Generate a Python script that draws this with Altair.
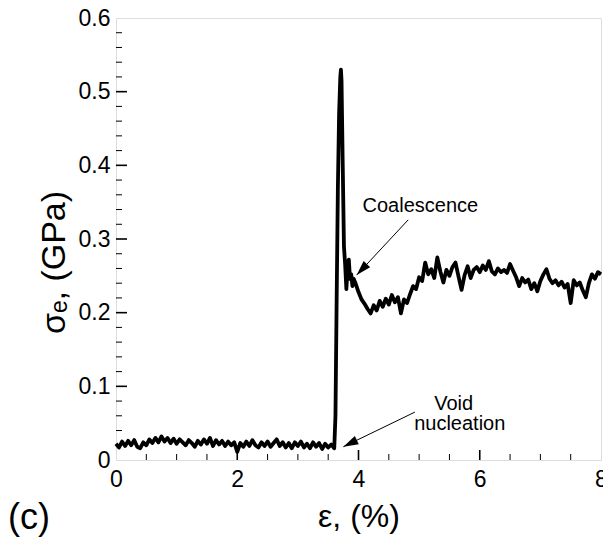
import altair as alt
import pandas as pd

# ---------------- data ----------------
strain_flat = [0.00, 0.05, 0.10, 0.15, 0.20, 0.25, 0.30, 0.35, 0.40, 0.45,
               0.50, 0.55, 0.60, 0.65, 0.70, 0.75, 0.80, 0.85, 0.90, 0.95,
               1.00, 1.05, 1.10, 1.15, 1.20, 1.25, 1.30, 1.35, 1.40, 1.45,
               1.50, 1.55, 1.60, 1.65, 1.70, 1.75, 1.80, 1.85, 1.90, 1.95,
               2.00, 2.05, 2.10, 2.15, 2.20, 2.25, 2.30, 2.35, 2.40, 2.45,
               2.50, 2.55, 2.60, 2.65, 2.70, 2.75, 2.80, 2.85, 2.90, 2.95,
               3.00, 3.05, 3.10, 3.15, 3.20, 3.25, 3.30, 3.35, 3.40, 3.45,
               3.50, 3.55, 3.60]
stress_flat = [0.022, 0.017, 0.025, 0.019, 0.026, 0.020, 0.027, 0.018, 0.016, 0.024,
               0.020, 0.028, 0.023, 0.030, 0.024, 0.032, 0.025, 0.030, 0.023, 0.029,
               0.022, 0.028, 0.024, 0.020, 0.027, 0.023, 0.018, 0.026, 0.021, 0.028,
               0.022, 0.030, 0.019, 0.027, 0.021, 0.026, 0.019, 0.025, 0.020, 0.024,
               0.011, 0.023, 0.018, 0.025, 0.019, 0.027, 0.020, 0.017, 0.024, 0.019,
               0.025, 0.018, 0.023, 0.028, 0.019, 0.024, 0.017, 0.023, 0.016, 0.024,
               0.019, 0.025, 0.017, 0.022, 0.016, 0.024, 0.018, 0.023, 0.015, 0.022,
               0.017, 0.021, 0.016]

strain_spike = [3.62, 3.64, 3.66, 3.68, 3.70, 3.71, 3.72, 3.74, 3.76, 3.78,
                3.80, 3.82, 3.84, 3.86, 3.88, 3.90, 3.92, 3.95]
stress_spike = [0.060, 0.220, 0.370, 0.470, 0.520, 0.530, 0.515, 0.400, 0.290, 0.265,
                0.232, 0.262, 0.272, 0.246, 0.252, 0.236, 0.246, 0.240]

strain_post = [4.00, 4.05, 4.10, 4.15, 4.20, 4.25, 4.30, 4.35, 4.40, 4.45,
               4.50, 4.55, 4.60, 4.65, 4.70, 4.75, 4.80, 4.85, 4.90, 4.95,
               5.00, 5.05, 5.10, 5.15, 5.20, 5.25, 5.30, 5.35, 5.40, 5.45,
               5.50, 5.55, 5.60, 5.65, 5.70, 5.75, 5.80, 5.85, 5.90, 5.95,
               6.00, 6.05, 6.10, 6.15, 6.20, 6.25, 6.30, 6.35, 6.40, 6.45,
               6.50, 6.55, 6.60, 6.65, 6.70, 6.75, 6.80, 6.85, 6.90, 6.95,
               7.00, 7.05, 7.10, 7.15, 7.20, 7.25, 7.30, 7.35, 7.40, 7.45,
               7.50, 7.55, 7.60, 7.65, 7.70, 7.75, 7.80, 7.85, 7.90, 7.95,
               8.00]
stress_post = [0.228, 0.218, 0.212, 0.205, 0.199, 0.210, 0.203, 0.216, 0.208, 0.219,
               0.211, 0.224, 0.214, 0.221, 0.199, 0.218, 0.213, 0.225, 0.236, 0.232,
               0.248, 0.243, 0.268, 0.252, 0.259, 0.247, 0.275, 0.256, 0.241, 0.258,
               0.250, 0.262, 0.268, 0.249, 0.231, 0.251, 0.263, 0.247, 0.258, 0.262,
               0.255, 0.264, 0.258, 0.270, 0.256, 0.252, 0.260, 0.255, 0.258, 0.254,
               0.266, 0.257, 0.248, 0.236, 0.247, 0.241, 0.245, 0.232, 0.240, 0.229,
               0.243, 0.252, 0.259, 0.246, 0.240, 0.244, 0.237, 0.242, 0.234, 0.239,
               0.213, 0.244, 0.237, 0.241, 0.230, 0.221, 0.240, 0.252, 0.246, 0.255,
               0.252]

x_ticks = [0, 2, 4, 6, 8]
y_ticks = [0, 0.1, 0.2, 0.3, 0.4, 0.5, 0.6]
x_major_inner = [2, 4, 6]
x_minor = [0.5, 1, 1.5, 2.5, 3, 3.5, 4.5, 5, 5.5, 6.5, 7, 7.5]
y_major_inner = [0.1, 0.2, 0.3, 0.4, 0.5]
y_minor = [0.02, 0.04, 0.06, 0.08, 0.12, 0.14, 0.16, 0.18, 0.22, 0.24, 0.26, 0.28,
           0.32, 0.34, 0.36, 0.38, 0.42, 0.44, 0.46, 0.48, 0.52, 0.54, 0.56, 0.58]

ann_labels = ["Coalescence", "Void", "nucleation"]
ann_x = [5.02, 5.57, 5.67]
ann_y = [0.337, 0.068, 0.041]

arrow_x_start = [4.82, 4.93]
arrow_y_start = [0.326, 0.065]
arrow_x_tip = [3.97, 3.75]
arrow_y_tip = [0.251, 0.018]
arrow_angle = [133, 154]

# ---------------- tables ----------------
curve = pd.DataFrame({
    "strain": strain_flat + strain_spike + strain_post,
    "stress": stress_flat + stress_spike + stress_post,
})
curve["order"] = range(len(curve))

W, H = 485, 442
FONT = "Liberation Sans"

xscale = alt.Scale(domain=[0, 8], nice=False, zero=False)
yscale = alt.Scale(domain=[0, 0.6], nice=False, zero=False)

x_axis = alt.Axis(values=x_ticks, format="d", ticks=False, tickSize=0, domain=False,
                  grid=False, labelFontSize=23, labelFont=FONT, labelColor="black",
                  labelPadding=8, labelFlush=False, labelOverlap=False,
                  title="ε, (%)", titleFont=FONT, titleFontSize=32,
                  titleFontWeight="normal", titleColor="black",
                  titleY=66, titleBaseline="alphabetic")
y_axis = alt.Axis(values=y_ticks, format=".1~f", ticks=False, tickSize=0, domain=False,
                  grid=False, labelFontSize=23, labelFont=FONT, labelColor="black",
                  labelPadding=6, labelFlush=False, labelOverlap=False,
                  title="σₑ, (GPa)", titleFont=FONT, titleFontSize=34,
                  titleFontWeight="normal", titleColor="black", titleAngle=270,
                  titleX=-52, titleY=244, titleAlign="center",
                  titleBaseline="alphabetic")

line = alt.Chart(curve).mark_line(color="black", strokeWidth=3.8, strokeJoin="round").encode(
    x=alt.X("strain:Q", scale=xscale, axis=x_axis),
    y=alt.Y("stress:Q", scale=yscale, axis=y_axis),
    order="order:Q",
)

def xtick_layer(vals, length, width):
    return alt.Chart(pd.DataFrame({"v": vals})).mark_rule(
        color="black", strokeWidth=width).encode(
        x=alt.X("v:Q", scale=xscale), y=alt.value(H), y2=alt.value(H - length))

def ytick_layer(vals, length, width):
    return alt.Chart(pd.DataFrame({"v": vals})).mark_rule(
        color="black", strokeWidth=width).encode(
        y=alt.Y("v:Q", scale=yscale), x=alt.value(0), x2=alt.value(length))

ticks = [
    xtick_layer(x_major_inner, 10, 1.6),
    xtick_layer(x_minor, 6, 1),
    ytick_layer(y_major_inner, 11, 1.6),
    ytick_layer(y_minor, 6, 1),
]

arrows_df = pd.DataFrame({
    "x0": arrow_x_start, "y0": arrow_y_start,
    "x1": arrow_x_tip, "y1": arrow_y_tip, "ang": arrow_angle,
})
arrow_lines = alt.Chart(arrows_df).mark_rule(color="black", strokeWidth=1).encode(
    x=alt.X("x0:Q", scale=xscale), y=alt.Y("y0:Q", scale=yscale),
    x2="x1:Q", y2="y1:Q")
arrow_heads = alt.Chart(arrows_df).mark_point(
    shape="M0,0L-1,-0.3L-1,0.3Z", filled=True, size=900, color="black",
    opacity=1, strokeWidth=0).encode(
    x=alt.X("x1:Q", scale=xscale), y=alt.Y("y1:Q", scale=yscale),
    angle=alt.Angle("ang:Q", scale=None))

ann_df = pd.DataFrame({"x": ann_x, "y": ann_y, "t": ann_labels})
ann_text = alt.Chart(ann_df).mark_text(
    font=FONT, fontSize=20, color="black", align="center", baseline="alphabetic").encode(
    x=alt.X("x:Q", scale=xscale), y=alt.Y("y:Q", scale=yscale), text="t:N")

panel = alt.Chart(pd.DataFrame({"t": ["(c)"]})).mark_text(
    font=FONT, fontSize=36, color="black", align="left", baseline="alphabetic").encode(
    x=alt.value(-108), y=alt.value(511), text="t:N")

chart = alt.layer(line, *ticks, arrow_lines, arrow_heads, ann_text, panel).properties(
    width=W, height=H,
    autosize=alt.AutoSizeParams(type="none"),
    padding={"left": 116, "top": 18, "right": 2, "bottom": 79},
).configure_view(stroke="black", strokeWidth=2).configure(background="white")

chart.save("out.html", embed_options={"renderer": "svg", "actions": False})
